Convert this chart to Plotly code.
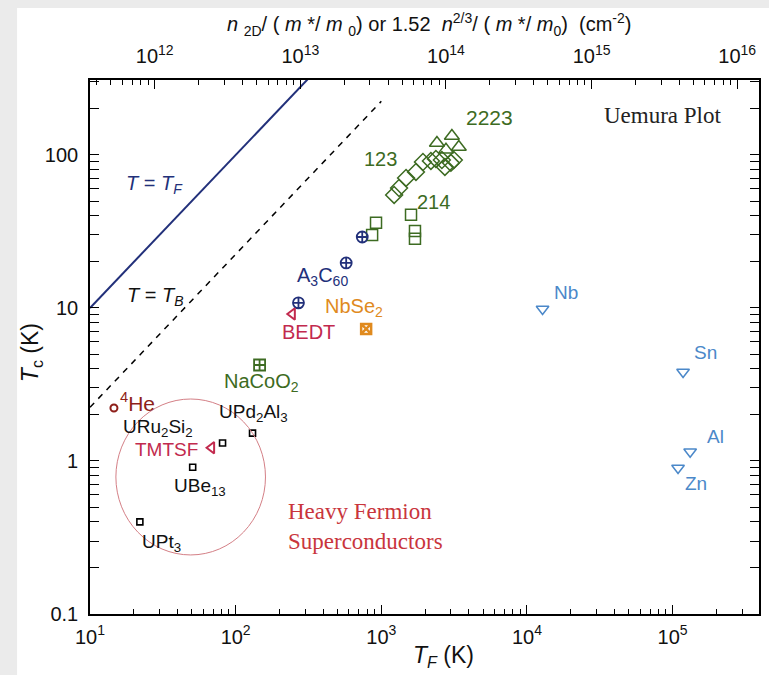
import numpy as np
import plotly.graph_objects as go

# ---------------- data (T_F in K, T_c in K) ----------------
cup123_tf = [1225, 1324, 1479, 1730, 1932, 2191, 2371, 2606, 2733, 3004, 3148]
cup123_tc = [54.8, 60.8, 70.8, 77.5, 90.0, 91.4, 94.2, 92.7, 83.5, 88.8, 92.7]
cup2223_tf = [2410, 3053, 3406, 2780]
cup2223_tc = [119.7, 133.0, 112.7, 108.0]
cup214_tf = [1600, 1703, 1703, 920, 865]
cup214_tc = [40.6, 31.9, 28.3, 36.0, 30.0]
a3c60_tf = [740, 574, 270]
a3c60_tc = [29.1, 19.7, 10.8]
bedt_tf, bedt_tc = [245], [9.14]
nbse2_tf, nbse2_tc = [787], [7.3]
nacoo2_tf, nacoo2_tc = [146], [4.24]
he4_tf, he4_tc = [14.6], [2.22]
tmtsf_tf, tmtsf_tc = [68.4], [1.22]
hf_names = ["URu2Si2", "UPd2Al3", "UBe13", "UPt3"]
hf_tf = [81.3, 130.6, 50.7, 22.0]
hf_tc = [1.31, 1.52, 0.91, 0.40]
bcs_names = ["Nb", "Sn", "Al", "Zn"]
bcs_tf = [12800, 118000, 132000, 109000]
bcs_tc = [9.84, 3.82, 1.15, 0.90]
line_tf = [10, 1000]
tb_ratio = 4.46

x_range = [10, 3.92e5]
y_range = [0.1, 309]
n_per_tf = 10 ** 10.556  # n2D/(m*/m0) in cm^-2 per K of T_F

bottom_ticks = [10, 100, 1000, 1e4, 1e5]
bottom_text = ["10<sup>1</sup>", "10<sup>2</sup>", "10<sup>3</sup>", "10<sup>4</sup>", "10<sup>5</sup>"]
top_ticks = [1e12, 1e13, 1e14, 1e15, 1e16]
top_text = ["10<sup>12</sup>", "10<sup>13</sup>", "10<sup>14</sup>", "10<sup>15</sup>", "10<sup>16</sup>"]
left_ticks = [0.1, 1, 10, 100]
left_text = ["0.1", "1", "10", "100"]

GREEN = "#3d6b22"
NAVY = "#22307a"
CRIMSON = "#c22a4e"
ORANGE = "#e08a1e"
BLUE = "#4b88c9"
BROWN = "#8e1f1a"
RED = "#c9353c"
SANS = "Liberation Sans, Arial"
SERIF = "Liberation Serif, Times New Roman"

def minor_vals(lo_exp, hi_exp):
    return [m * 10 ** e for e in range(lo_exp, hi_exp) for m in range(2, 10)]

fig = go.Figure()

# reference lines
fig.add_trace(go.Scatter(x=line_tf, y=line_tf, mode="lines",
                         line=dict(color=NAVY, width=2), hoverinfo="skip"))
fig.add_trace(go.Scatter(x=line_tf, y=[v / tb_ratio for v in line_tf], mode="lines",
                         line=dict(color="black", width=1.5, dash="6px,6px"), hoverinfo="skip"))

def pts(x, y, symbol, color, size, width=1.5):
    fig.add_trace(go.Scatter(x=x, y=y, mode="markers",
                             marker=dict(symbol=symbol, size=size, color=color,
                                         line=dict(color=color, width=width))))

pts(cup123_tf, cup123_tc, "diamond-open", GREEN, 13)
pts(cup2223_tf, cup2223_tc, "triangle-up-open", GREEN, 13)
pts(cup214_tf, cup214_tc, "square-open", GREEN, 11)
pts(a3c60_tf, a3c60_tc, "circle-cross-open", NAVY, 11, 1.8)
pts(bedt_tf, bedt_tc, "triangle-left-open", CRIMSON, 10, 2)
pts(nbse2_tf, nbse2_tc, "square-x-open", ORANGE, 10, 2.5)
pts(nacoo2_tf, nacoo2_tc, "square-cross-open", GREEN, 11, 1.8)
pts(he4_tf, he4_tc, "circle-open", BROWN, 7, 2)
pts(tmtsf_tf, tmtsf_tc, "triangle-left-open", CRIMSON, 10, 2)
pts(hf_tf, hf_tc, "square-open", "black", 6, 1.6)
pts(bcs_tf, bcs_tc, "triangle-down-open", BLUE, 11, 1.5)

# invisible trace to carry the top axis
fig.add_trace(go.Scatter(x=[top_ticks[1]], y=[1], xaxis="x2", mode="markers",
                         marker=dict(opacity=0), hoverinfo="skip"))

L = np.log10
def lab(x, y, text, color, size=20, family=SANS, xanchor="center"):
    fig.add_annotation(x=x, y=y, xref="x", yref="y", text=text, showarrow=False,
                       font=dict(color=color, size=size, family=family),
                       xanchor=xanchor, yanchor="middle")

lab(4.936, 2.255, "Uemura Plot", "#222222", 23, SERIF)
lab(3.745, 2.242, "2223", GREEN, 21)
lab(2.992, 1.974, "123", GREEN, 20)
lab(3.355, 1.693, "214", GREEN, 20)
lab(2.595, 1.209, "A<sub>3</sub>C<sub>60</sub>", NAVY, 20)
lab(2.814, 1.000, "NbSe<sub>2</sub>", ORANGE, 20)
lab(2.499, 0.843, "BEDT", CRIMSON, 20)
lab(2.177, 0.510, "NaCoO<sub>2</sub>", GREEN, 20)
lab(1.329, 0.386, "<sup>4</sup>He", BROWN, 21)
lab(1.465, 0.216, "URu<sub>2</sub>Si<sub>2</sub>", "#111111", 19)
lab(2.123, 0.314, "UPd<sub>2</sub>Al<sub>3</sub>", "#111111", 19)
lab(1.527, 0.078, "TMTSF", CRIMSON, 19)
lab(1.753, -0.170, "UBe<sub>13</sub>", "#111111", 19)
lab(1.493, -0.536, "UPt<sub>3</sub>", "#111111", 19)
lab(2.348, -0.327, "Heavy Fermion", RED, 23, SERIF, "left")
lab(2.348, -0.523, "Superconductors", RED, 23, SERIF, "left")
for nm, lx, ly in zip(bcs_names, [4.265, 5.223, 5.292, 5.162], [1.098, 0.706, 0.157, -0.144]):
    lab(lx, ly, nm, BLUE, 19)
lab(1.445, 1.804, "<i>T</i> = <i>T</i><sub><i>F</i></sub>", NAVY, 20)
lab(1.452, 1.072, "<i>T</i> = <i>T</i><sub><i>B</i></sub>", "#111111", 20)

# axis titles
fig.add_annotation(x=0.529, y=-0.079, xref="paper", yref="paper", showarrow=False,
                   xanchor="center", yanchor="middle",
                   text="<i>T</i><sub><i>F</i></sub> (K)", font=dict(size=23, color="#111", family=SANS))
fig.add_annotation(x=-0.087, y=0.49, xref="paper", yref="paper", showarrow=False, textangle=-90,
                   xanchor="center", yanchor="middle",
                   text="<i>T</i><sub>c</sub> (K)", font=dict(size=23, color="#111", family=SANS))
fig.add_annotation(x=0.507, y=1.103, xref="paper", yref="paper", showarrow=False,
                   xanchor="center", yanchor="middle",
                   text="<i>n</i> <sub>2D</sub>/ ( <i>m</i> */ <i>m</i> <sub>0</sub>) or 1.52  "
                        "<i>n</i><sup>2/3</sup>/ ( <i>m</i> */ <i>m</i><sub>0</sub>)  (cm<sup>-2</sup>)",
                   font=dict(size=20, color="#111", family=SANS))

# heavy fermion circle
fig.add_shape(type="circle", xref="x domain", yref="y domain",
              x0=0.1505 - 0.1118, x1=0.1505 + 0.1118, y0=0.2566 - 0.146, y1=0.2566 + 0.146,
              line=dict(color="#d47f86", width=1))

# outer grey frame
fig.add_shape(type="rect", xref="paper", yref="paper", x0=-0.2, x1=-0.109, y0=-0.2, y1=1.3,
              fillcolor="#ebebeb", line=dict(width=0), layer="below")
fig.add_shape(type="rect", xref="paper", yref="paper", x0=-0.2, x1=1.1, y0=1.135, y1=1.3,
              fillcolor="#ebebeb", line=dict(width=0), layer="below")

axis_font = dict(size=20, color="#111", family=SANS)
fig.update_layout(
    width=769, height=675, showlegend=False,
    margin=dict(l=90, r=8, t=80, b=61),
    paper_bgcolor="white", plot_bgcolor="white",
    font=dict(family=SANS),
    xaxis=dict(type="log", range=[L(x_range[0]), L(x_range[1])], showgrid=False, zeroline=False,
               showline=True, linecolor="black", linewidth=1.6, mirror=True,
               ticks="inside", ticklen=9, tickwidth=1.3, tickcolor="black",
               tickvals=bottom_ticks, ticktext=bottom_text, tickfont=axis_font,
               ticklabelstandoff=4,
               minor=dict(ticks="inside", ticklen=5, tickwidth=1.1, tickcolor="black",
                          tickvals=minor_vals(1, 6), showgrid=False)),
    xaxis2=dict(type="log", overlaying="x", side="top", anchor="y",
                range=[L(x_range[0] * n_per_tf), L(x_range[1] * n_per_tf)],
                showgrid=False, zeroline=False, showline=False,
                ticks="inside", ticklen=9, tickwidth=1.3, tickcolor="black",
                tickvals=top_ticks, ticktext=top_text, tickfont=axis_font,
                ticklabelstandoff=12,
                minor=dict(ticks="inside", ticklen=5, tickwidth=1.1, tickcolor="black",
                           tickvals=minor_vals(11, 17), showgrid=False)),
    yaxis=dict(type="log", range=[L(y_range[0]), L(y_range[1])], showgrid=False, zeroline=False,
               showline=True, linecolor="black", linewidth=1.6, mirror="allticks",
               ticks="inside", ticklen=9, tickwidth=1.3, tickcolor="black",
               tickvals=left_ticks, ticktext=left_text, tickfont=axis_font,
               ticklabelstandoff=6,
               minor=dict(ticks="inside", ticklen=5, tickwidth=1.1, tickcolor="black",
                          tickvals=minor_vals(-1, 3), showgrid=False)),
)

fig.write_html("out.html")
